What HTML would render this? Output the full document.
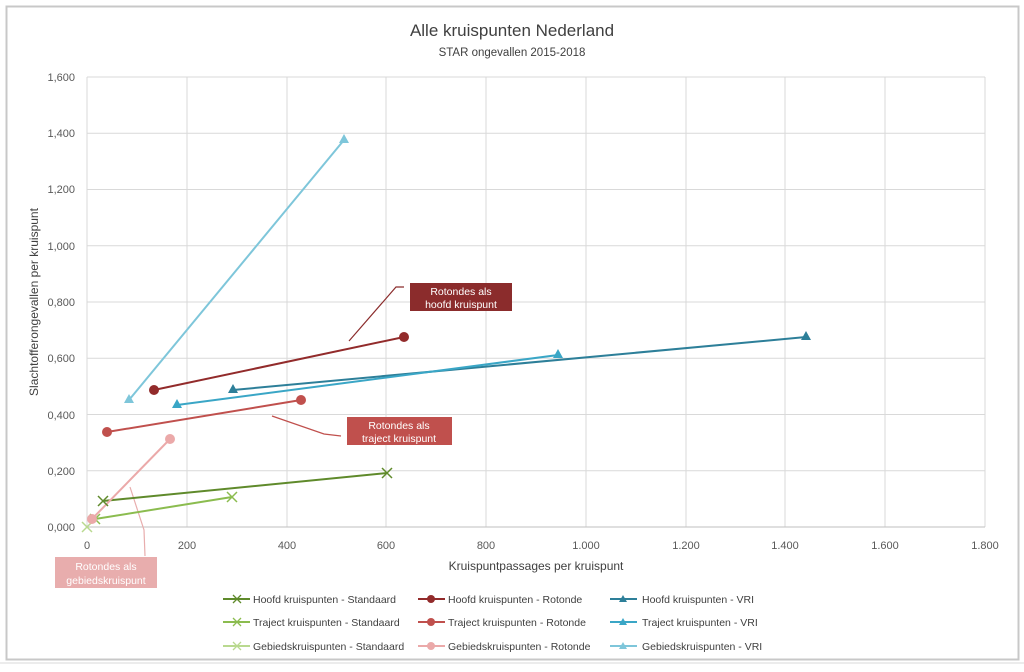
<!DOCTYPE html>
<html><head><meta charset="utf-8"><style>
body{margin:0;background:#fff;}
svg{display:block;font-family:"Liberation Sans",sans-serif;}
</style></head><body>
<svg width="1024" height="672" viewBox="0 0 1024 672" xmlns="http://www.w3.org/2000/svg">
<rect x="0" y="0" width="1024" height="672" fill="#fff"/>
<rect x="6.5" y="6.5" width="1012" height="653" fill="#fff" stroke="#c8c8c8" stroke-width="2"/>
<line x1="0" y1="663" x2="1024" y2="663" stroke="#d8d8d8"/>
<text x="512" y="36" text-anchor="middle" font-size="17" fill="#404040">Alle kruispunten Nederland</text>
<text x="512" y="56" text-anchor="middle" font-size="11.5" fill="#404040">STAR ongevallen 2015-2018</text>
<g stroke="#d9d9d9" stroke-width="1">
<line x1="87" y1="77" x2="985" y2="77"/><line x1="87" y1="133.3" x2="985" y2="133.3"/>
<line x1="87" y1="189.5" x2="985" y2="189.5"/><line x1="87" y1="245.8" x2="985" y2="245.8"/>
<line x1="87" y1="302" x2="985" y2="302"/><line x1="87" y1="358.3" x2="985" y2="358.3"/>
<line x1="87" y1="414.5" x2="985" y2="414.5"/><line x1="87" y1="470.8" x2="985" y2="470.8"/>
<line x1="187" y1="77" x2="187" y2="527"/><line x1="287" y1="77" x2="287" y2="527"/>
<line x1="386" y1="77" x2="386" y2="527"/><line x1="486" y1="77" x2="486" y2="527"/>
<line x1="586" y1="77" x2="586" y2="527"/><line x1="686" y1="77" x2="686" y2="527"/>
<line x1="785" y1="77" x2="785" y2="527"/><line x1="885" y1="77" x2="885" y2="527"/>
<line x1="985" y1="77" x2="985" y2="527"/><line x1="87" y1="77" x2="87" y2="527"/>
</g>
<line x1="87" y1="527" x2="985" y2="527" stroke="#bfbfbf"/>
<g font-size="11" fill="#595959" text-anchor="end">
<text x="75" y="81">1,600</text><text x="75" y="137">1,400</text><text x="75" y="193">1,200</text>
<text x="75" y="250">1,000</text><text x="75" y="306">0,800</text><text x="75" y="362">0,600</text>
<text x="75" y="419">0,400</text><text x="75" y="475">0,200</text><text x="75" y="531">0,000</text>
</g>
<g font-size="11" fill="#595959" text-anchor="middle">
<text x="87" y="549">0</text><text x="187" y="549">200</text><text x="287" y="549">400</text>
<text x="386" y="549">600</text><text x="486" y="549">800</text><text x="586" y="549">1.000</text>
<text x="686" y="549">1.200</text><text x="785" y="549">1.400</text><text x="885" y="549">1.600</text>
<text x="985" y="549">1.800</text>
</g>
<text x="536" y="570" text-anchor="middle" font-size="12" fill="#404040">Kruispuntpassages per kruispunt</text>
<text transform="translate(38,302) rotate(-90)" text-anchor="middle" font-size="12" fill="#404040">Slachtofferongevallen per kruispunt</text>

<!-- leaders -->
<polyline points="349,341 396,287 404,287" fill="none" stroke="#8b2c2c" stroke-width="1.2"/>
<polyline points="272,416 324,434 341,436" fill="none" stroke="#c0504d" stroke-width="1.2"/>
<polyline points="130,487 144,530 145,556" fill="none" stroke="#e8adad" stroke-width="1.2"/>

<!-- series -->
<g stroke-width="2" fill="none">
<line x1="103" y1="501" x2="387" y2="473" stroke="#5f8a2b"/>
<line x1="95" y1="519" x2="232" y2="497" stroke="#8bbc4f"/>
<line x1="154" y1="390" x2="404" y2="337" stroke="#922b2b"/>
<line x1="107" y1="432" x2="301" y2="400" stroke="#c0504d"/>
<line x1="92" y1="519" x2="170" y2="439" stroke="#eba9a9"/>
<line x1="233" y1="390" x2="806" y2="337" stroke="#2d7f99"/>
<line x1="177" y1="405" x2="558" y2="355" stroke="#3aa6c6"/>
<line x1="129" y1="400" x2="344" y2="140" stroke="#7ec6da"/>
</g>
<g stroke-width="1.5">
<path d="M98,496l10,10M108,496l-10,10M382,468l10,10M392,468l-10,10" stroke="#5f8a2b"/>
<path d="M90,514l10,10M100,514l-10,10M227,492l10,10M237,492l-10,10" stroke="#8bbc4f"/>
<path d="M82,522l10,10M92,522l-10,10" stroke="#b9d98f"/>
</g>
<circle cx="154" cy="390" r="5" fill="#922b2b"/><circle cx="404" cy="337" r="5" fill="#922b2b"/>
<circle cx="107" cy="432" r="5" fill="#c0504d"/><circle cx="301" cy="400" r="5" fill="#c0504d"/>
<circle cx="92" cy="519" r="5" fill="#eba9a9"/><circle cx="170" cy="439" r="5" fill="#eba9a9"/>
<path d="M233,384l5,9h-10z M806,331l5,9h-10z" fill="#2d7f99"/>
<path d="M177,399l5,9h-10z M558,349l5,9h-10z" fill="#3aa6c6"/>
<path d="M129,394l5,9h-10z M344,134l5,9h-10z" fill="#7ec6da"/>

<!-- annotation boxes -->
<rect x="410" y="283" width="102" height="28" fill="#8b2c2c"/>
<text x="461" y="295" text-anchor="middle" font-size="10.5" fill="#fff">Rotondes als</text>
<text x="461" y="308" text-anchor="middle" font-size="10.5" fill="#fff">hoofd kruispunt</text>
<rect x="347" y="417" width="105" height="28" fill="#c0504d"/>
<text x="399" y="429" text-anchor="middle" font-size="10.5" fill="#fff">Rotondes als</text>
<text x="399" y="442" text-anchor="middle" font-size="10.5" fill="#fff">traject kruispunt</text>
<rect x="55" y="557" width="102" height="31" fill="#e8adad"/>
<text x="106" y="570" text-anchor="middle" font-size="10.5" fill="#fff">Rotondes als</text>
<text x="106" y="584" text-anchor="middle" font-size="10.5" fill="#fff">gebiedskruispunt</text>

<!-- legend -->
<g font-size="10.5" fill="#404040">
<line x1="223" y1="599" x2="250" y2="599" stroke="#5f8a2b" stroke-width="2"/><path d="M233,595l8,8M241,595l-8,8" stroke="#5f8a2b" stroke-width="1.3"/>
<text x="253" y="603">Hoofd kruispunten - Standaard</text>
<line x1="223" y1="622" x2="250" y2="622" stroke="#8bbc4f" stroke-width="2"/><path d="M233,618l8,8M241,618l-8,8" stroke="#8bbc4f" stroke-width="1.3"/>
<text x="253" y="626">Traject kruispunten - Standaard</text>
<line x1="223" y1="646" x2="250" y2="646" stroke="#b9d98f" stroke-width="2"/><path d="M233,642l8,8M241,642l-8,8" stroke="#b9d98f" stroke-width="1.3"/>
<text x="253" y="650">Gebiedskruispunten - Standaard</text>

<line x1="418" y1="599" x2="445" y2="599" stroke="#922b2b" stroke-width="2"/><circle cx="431" cy="599" r="4" fill="#922b2b"/>
<text x="448" y="603">Hoofd kruispunten - Rotonde</text>
<line x1="418" y1="622" x2="445" y2="622" stroke="#c0504d" stroke-width="2"/><circle cx="431" cy="622" r="4" fill="#c0504d"/>
<text x="448" y="626">Traject kruispunten - Rotonde</text>
<line x1="418" y1="646" x2="445" y2="646" stroke="#eba9a9" stroke-width="2"/><circle cx="431" cy="646" r="4" fill="#eba9a9"/>
<text x="448" y="650">Gebiedskruispunten - Rotonde</text>

<line x1="610" y1="599" x2="637" y2="599" stroke="#2d7f99" stroke-width="2"/><path d="M623,595l4,7h-8z" fill="#2d7f99"/>
<text x="642" y="603">Hoofd kruispunten - VRI</text>
<line x1="610" y1="622" x2="637" y2="622" stroke="#3aa6c6" stroke-width="2"/><path d="M623,618l4,7h-8z" fill="#3aa6c6"/>
<text x="642" y="626">Traject kruispunten - VRI</text>
<line x1="610" y1="646" x2="637" y2="646" stroke="#7ec6da" stroke-width="2"/><path d="M623,642l4,7h-8z" fill="#7ec6da"/>
<text x="642" y="650">Gebiedskruispunten - VRI</text>
</g>
</svg>
</body></html>
